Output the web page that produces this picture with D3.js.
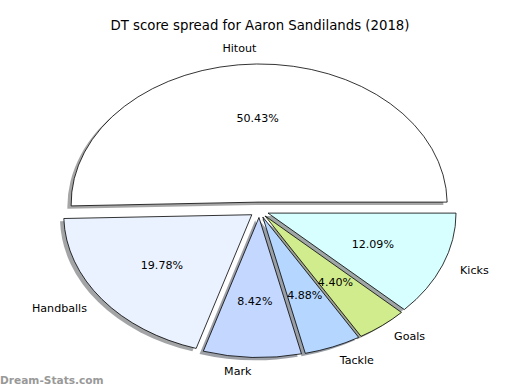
<!DOCTYPE html>
<html><head><meta charset="utf-8">
<script src="https://cdn.jsdelivr.net/npm/d3@7"></script>
<style>body{margin:0;background:#fff}svg{display:block}text{font-family:"DejaVu Sans",sans-serif}</style>
</head><body>
<svg id="c" width="520" height="390"></svg>
<script>
const categories = ["Hitout","Handballs","Mark","Tackle","Goals","Kicks"];
const values = [50.43,19.78,8.42,4.88,4.40,12.09];
const pctLabels = ["50.43%","19.78%","8.42%","4.88%","4.40%","12.09%"];
const colors = ["#ffffff","#eaf2ff","#c4d8ff","#b4d6ff","#d0ec8c","#d8ffff"];
const explode = [0.06,0.05,0.05,0.05,0.05,0.05];
const title = "DT score spread for Aaron Sandilands (2018)";

const svg = d3.select("#c");
const cx = 259.3, cy = 210.5, rx = 188, ry = 140;
const W = 520;

svg.append("text").attr("x", W/2).attr("y", 25).attr("text-anchor","middle")
  .attr("dy","0.35em").style("font-size","13.3px").attr("fill","#000").text(title);

const pie = d3.pie().sort(null).value(d=>d).startAngle(Math.PI/2).endAngle(Math.PI/2 - 2*Math.PI);
const arcs = pie(values);
const arc = d3.arc().innerRadius(0).outerRadius(1);

const xs = d3.scaleLinear().domain([0,1]).range([cx, cx+rx]);
const ys = d3.scaleLinear().domain([0,1]).range([cy, cy-ry]);

function mid(a){ const m=(a.startAngle+a.endAngle)/2; return Math.PI/2 - m; }

const shadowG = svg.append("g");
const sliceG = svg.append("g");
const textG = svg.append("g");

arcs.forEach((a,i)=>{
  const t = mid(a);
  const ox = explode[i]*Math.cos(t), oy = explode[i]*Math.sin(t);
  const c = d3.rgb(colors[i]);
  shadowG.append("path").attr("d", arc(a))
    .attr("transform", `translate(${xs(ox-0.02)},${ys(oy-0.02)}) scale(${rx},${ry})`)
    .attr("fill", `rgb(${c.r*0.3},${c.g*0.3},${c.b*0.3})`)
    .attr("fill-opacity",0.5);
  sliceG.append("path").attr("d", arc(a))
    .attr("transform", `translate(${xs(ox)},${ys(oy)}) scale(${rx},${ry})`)
    .attr("fill", colors[i]).attr("stroke","#000").attr("stroke-width",0.8)
    .attr("vector-effect","non-scaling-stroke").attr("stroke-linejoin","miter");
  const lx = ox + 1.1*Math.cos(t), ly = oy + 1.1*Math.sin(t);
  textG.append("text").attr("x", xs(lx)).attr("y", ys(ly)).attr("dy","0.35em")
    .attr("text-anchor", Math.cos(t) > 0 ? "start" : "end")
    .style("font-size","11.1px").attr("fill","#000").text(categories[i]);
  const px = ox + 0.6*Math.cos(t), py = oy + 0.6*Math.sin(t);
  textG.append("text").attr("x", xs(px)).attr("y", ys(py)).attr("dy","0.35em")
    .attr("text-anchor","middle").style("font-size","11.1px").attr("fill","#000").text(pctLabels[i]);
});

svg.append("text").attr("x", 0).attr("y", 380).attr("dy","0.35em")
  .style("font-size","10.6px").style("font-weight","bold").attr("fill","#999").text("Dream-Stats.com");
</script>
</body></html>
